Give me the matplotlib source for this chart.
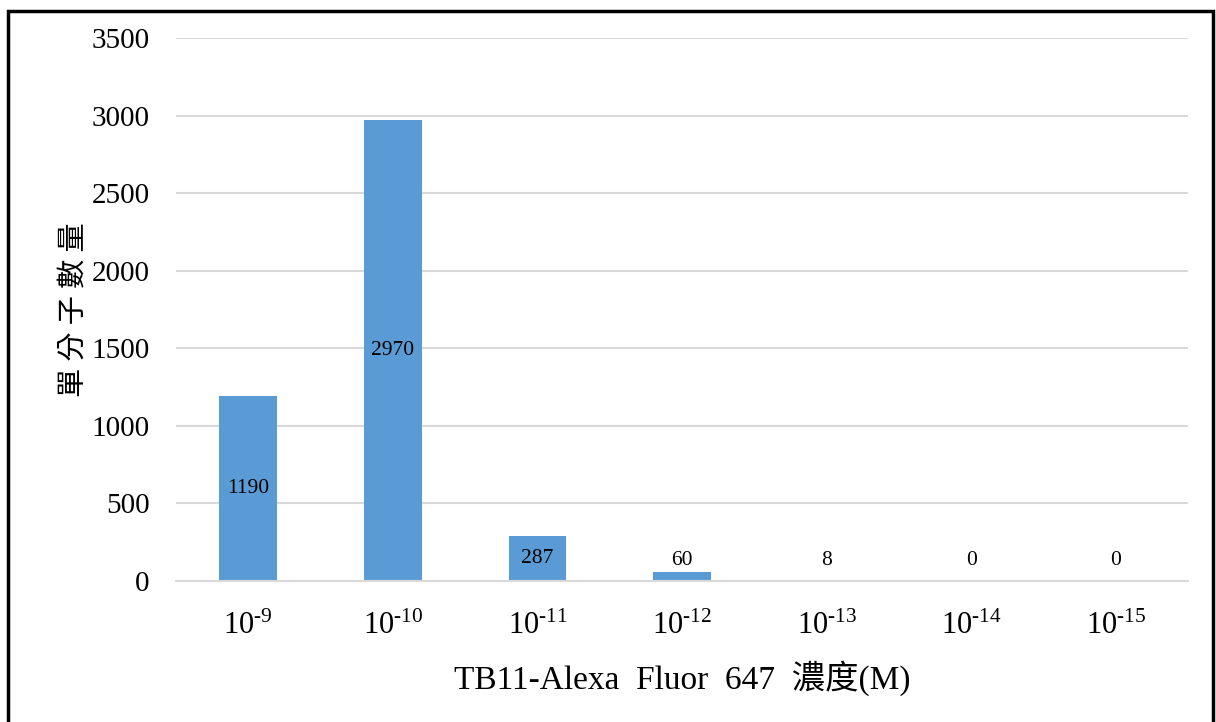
import numpy as np
import matplotlib.pyplot as plt
from matplotlib.patches import Rectangle

plt.rcParams['font.family'] = ['Liberation Serif', 'Noto Sans CJK TC']
plt.rcParams['mathtext.fontset'] = 'custom'
plt.rcParams['mathtext.rm'] = 'Liberation Serif'

# single-molecule counts at each dye concentration
exponents = [-9, -10, -11, -12, -13, -14, -15]
counts = [1190, 2970, 287, 60, 8, 0, 0]
tick_labels = [r'$\mathregular{10^{‐%d}}$' % -e for e in exponents]

fig = plt.figure(figsize=(12.16, 7.22), dpi=100)
ax = fig.add_axes([0.1447, 0.1953, 0.8325, 0.7521])

x = np.arange(len(counts))
ax.bar(x, counts, width=0.4, color='#5B9BD5', zorder=3)

# value labels: centred in the bar, lifted above short bars
for xi, v in zip(x, counts):
    ax.text(xi, max(v / 2, 130), str(v), ha='center', va='center',
            fontsize=15.5, zorder=4)

ax.set_xlim(-0.5, len(counts) - 0.5)
ax.set_ylim(0, 3500)
ax.set_yticks(np.arange(0, 3501, 500))
ax.set_xticks(x)
ax.set_xticklabels(tick_labels)
ax.tick_params(axis='y', length=0, labelsize=21, pad=19)
ax.tick_params(axis='x', length=0, labelsize=22, pad=22)
ax.yaxis.grid(True, color='#D9D9D9', linewidth=1.5, zorder=0)

for side in ['top', 'right', 'left']:
    ax.spines[side].set_visible(False)
ax.spines['bottom'].set_color('#D9D9D9')
ax.spines['bottom'].set_linewidth(1.5)
ax.spines['bottom'].set_zorder(3)

ax.set_ylabel('單 分 子 數 量', fontsize=21, labelpad=3)
ax.set_xlabel('TB11-Alexa  Fluor  647  濃度(M)', fontsize=24, labelpad=14)

# outer frame around the chart
fig.patches.append(Rectangle((0.0066, -0.05), 0.9910, 1.0346, transform=fig.transFigure,
                             fill=False, edgecolor='black', linewidth=2.5))

fig.savefig('out.png', dpi=100)
